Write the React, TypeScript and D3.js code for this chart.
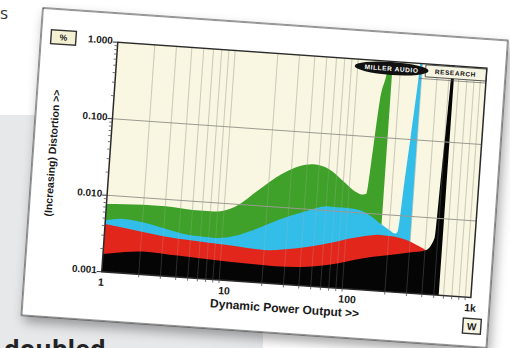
import React from 'react';
import * as d3 from 'd3';

const W = 510, H = 348;

// axis labels
const yTicks = [0.001, 0.01, 0.1, 1];
const yTickLabels = ['0.001', '0.010', '0.100', '1.000'];
const xTicks = [1, 10, 100, 1000];
const xTickLabels = ['1', '10', '100', '1k'];

// [power (W), distortion (%)]
const greenSeries: [number, number][] = [
  [1, 0.0077], [2, 0.0081], [3, 0.0081], [5, 0.0077], [7.5, 0.0077], [11, 0.0093],
  [17, 0.0165], [25, 0.027], [35, 0.036], [45, 0.039], [60, 0.035], [80, 0.025],
  [100, 0.019], [115, 0.0175], [125, 0.018], [131, 0.045], [142, 0.3], [156, 0.7],
  [162, 1.2], [172, 1.2], [173.5, 0.001], [1000, 0.001],
];
const blueSeries: [number, number][] = [
  [1, 0.0047], [1.4, 0.0051], [2, 0.0048], [3, 0.0042], [5, 0.0036], [8, 0.0035],
  [11, 0.0038], [16, 0.0048], [25, 0.0068], [40, 0.0092], [63, 0.0114], [85, 0.0113],
  [110, 0.011], [140, 0.0093], [170, 0.0075], [200, 0.0064], [225, 0.0058],
  [235, 0.0062], [250, 0.029], [265, 0.118], [283, 0.6], [290, 1.2], [299, 1.2],
  [300.5, 0.001], [1000, 0.001],
];
const redSeries: [number, number][] = [
  [1, 0.0042], [2, 0.0036], [3, 0.0033], [5, 0.0031], [10, 0.0029], [20, 0.0027],
  [35, 0.003], [67, 0.0038], [100, 0.0046], [140, 0.0052], [170, 0.0054],
  [220, 0.0053], [280, 0.0049], [340, 0.0043], [400, 0.0038], [420, 0.0036],
  [422, 0.001], [1000, 0.001],
];
const blackSeries: [number, number][] = [
  [1, 0.0017], [1.5, 0.0019], [2.2, 0.002], [4, 0.0019], [8, 0.0018], [14, 0.00174],
  [25, 0.0017], [40, 0.00175], [70, 0.002], [128, 0.0026], [184, 0.0029],
  [300, 0.0034], [410, 0.0038], [472, 0.0056], [490, 0.036], [505, 0.16],
  [517, 0.52], [526, 1.2], [548, 1.2], [550, 0.001], [1000, 0.001],
];

const series = [
  { data: greenSeries, color: '#3fa12a' },
  { data: blueSeries, color: '#33bde9' },
  { data: redSeries, color: '#e3261b' },
  { data: blackSeries, color: '#050505' },
];

// card frame (local coords, rotated onto the page)
const CW = 466, CH = 308;
const PL = 77, PR = 447, PT = 29, PB = 259;
const font = '"Liberation Sans", Arial, sans-serif';

export default function App() {
  const x = d3.scaleLog().domain([1, 1000]).range([PL, PR]);
  const y = d3.scaleLog().domain([0.001, 1]).range([PB, PT]);

  const area = d3.area<[number, number]>()
    .x(d => x(d[0]))
    .y0(PB)
    .y1(d => y(d[1]))
    .curve(d3.curveMonotoneX);

  const minorX: number[] = [];
  [1, 10, 100].forEach(dec => {
    for (let k = 2; k <= 9; k++) minorX.push(dec * k);
  });
  const minorY: number[] = [];
  [0.001, 0.01, 0.1].forEach(dec => {
    for (let k = 2; k <= 9; k++) minorY.push(dec * k);
  });

  return (
    <svg width={W} height={H} style={{ position: 'absolute', left: 0, top: 0 }}>
      <defs>
        <filter id="shadow" x="-10%" y="-10%" width="125%" height="130%">
          <feDropShadow dx="3" dy="6" stdDeviation="6" floodColor="#000" floodOpacity="0.35" />
        </filter>
        <clipPath id="plotClip">
          <rect x={PL} y={PT} width={PR - PL} height={PB - PT} />
        </clipPath>
      </defs>

      <rect x={0} y={0} width={W} height={H} fill="#ffffff" />
      <rect x={0} y={115} width={263} height={H - 115} fill="#e7e8ea" />
      <text x={0} y={19} fontFamily='"Open Sans", sans-serif' fontSize={17} fill="#333">s</text>
      <text x={4} y={358} fontFamily='"Open Sans", sans-serif' fontWeight="bold" fontSize={25} fill="#222">doubled</text>

      <g transform="translate(43,8) rotate(4)">
        <rect x={0} y={0} width={CW} height={CH} fill="#fff" stroke="#2a2a2a" strokeWidth={1} filter="url(#shadow)" />

        <rect x={PL} y={PT} width={PR - PL} height={PB - PT} fill="#f9f7e1" />

        <g clipPath="url(#plotClip)">
          {minorX.map((v, i) => (
            <line key={'gx' + i} x1={x(v)} x2={x(v)} y1={PT} y2={PB} stroke="#d2d0bc" strokeWidth={1} />
          ))}
          {series.map((s, i) => (
            <path key={i} d={area(s.data) || ''} fill={s.color} />
          ))}
          {minorX.map((v, i) => (
            <line key={'fx' + i} x1={x(v)} x2={x(v)} y1={PT} y2={PB} stroke="#bbbbbb" strokeOpacity={0.22} strokeWidth={1} />
          ))}
          {[0.01, 0.1].map((v, i) => (
            <line key={'gy' + i} x1={PL} x2={PR} y1={y(v)} y2={y(v)} stroke="#9a9a92" strokeWidth={1} />
          ))}
        </g>

        {/* logo */}
        <rect x={386} y={30} width={PR - 386} height={12} fill="#f6f4e2" stroke="#333" strokeWidth={0.8} />
        <line x1={380} x2={PR} y1={44} y2={44} stroke="#555" strokeWidth={0.6} />
        <ellipse cx={352} cy={36} rx={37} ry={6.5} fill="#111" />
        <text x={352} y={38.5} textAnchor="middle" fontFamily={font} fontWeight="bold" fontSize={6.5} fill="#fff" letterSpacing={0.6}>MILLER AUDIO</text>
        <text x={416} y={38.5} textAnchor="middle" fontFamily={font} fontWeight="bold" fontSize={6.5} fill="#111" letterSpacing={0.6}>RESEARCH</text>

        <rect x={PL} y={PT} width={PR - PL} height={PB - PT} fill="none" stroke="#2a2a2a" strokeWidth={1.5} />

        {/* axis ticks */}
        {minorY.map((v, i) => (
          <line key={'ty' + i} x1={PL - 3} x2={PL} y1={y(v)} y2={y(v)} stroke="#555" strokeWidth={0.8} />
        ))}
        {yTicks.map((v, i) => (
          <line key={'tY' + i} x1={PL - 5} x2={PL} y1={y(v)} y2={y(v)} stroke="#333" strokeWidth={1} />
        ))}
        {minorX.map((v, i) => (
          <line key={'tx' + i} x1={x(v)} x2={x(v)} y1={PB} y2={PB + 3} stroke="#555" strokeWidth={0.8} />
        ))}

        {yTicks.map((v, i) => (
          <text key={'ly' + i} x={PL - 5} y={y(v) + 2} textAnchor="end" fontFamily={font} fontWeight="bold" fontSize={10} fill="#1a1a1a">{yTickLabels[i]}</text>
        ))}
        {xTicks.map((v, i) => (
          <text key={'lx' + i} x={x(v)} y={PB + 14} textAnchor="middle" fontFamily={font} fontWeight="bold" fontSize={10.5} fill="#1a1a1a">{xTickLabels[i]}</text>
        ))}

        <rect x={10} y={21} width={25} height={14} fill="#f3f0d4" stroke="#333" strokeWidth={1.4} />
        <text x={22.5} y={31} textAnchor="middle" fontFamily={font} fontWeight="bold" fontSize={8.5} fill="#1a1a1a">%</text>

        <rect x={441} y={280} width={18} height={15} fill="#f7f5e4" stroke="#333" strokeWidth={1.4} />
        <text x={450} y={291.5} textAnchor="middle" fontFamily={font} fontWeight="bold" fontSize={10} fill="#1a1a1a">W</text>

        <text x={(PL + PR) / 2} y={287} textAnchor="middle" fontFamily={font} fontWeight="bold" fontSize={12} fill="#1a1a1a">Dynamic Power Output &gt;&gt;</text>
        <text transform={`translate(23,${(PT + PB) / 2}) rotate(-90)`} textAnchor="middle" fontFamily={font} fontWeight="bold" fontSize={10.5} fill="#1a1a1a">(Increasing) Distortion &gt;&gt;</text>
      </g>
    </svg>
  );
}
